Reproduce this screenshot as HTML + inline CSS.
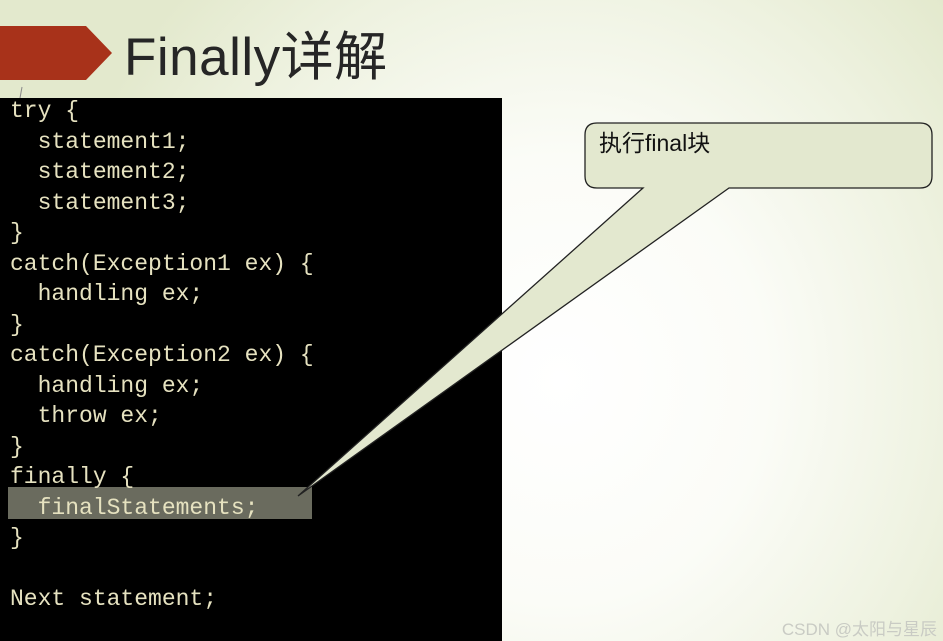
<!DOCTYPE html>
<html><head><meta charset="utf-8"><style>
html,body{margin:0;padding:0}
body{width:943px;height:641px;position:relative;overflow:hidden;
background:radial-gradient(ellipse 520px 560px at 560px 380px,#ffffff 0%,#fbfcf7 40%,#eef2e0 75%,#e3e9cd 100%);
font-family:"Liberation Sans","Noto Sans CJK SC",sans-serif}
.code{position:absolute;left:0;top:98px;width:502px;height:543px;background:#000}
.hl{position:absolute;left:8px;top:487px;width:304px;height:32px;background:#6a6b5e}
pre{position:absolute;left:10px;top:96px;margin:0;font-family:"Liberation Mono",monospace;font-size:23px;line-height:30.5px;color:#e6e2c0}
.title{position:absolute;left:124px;top:15px;font-size:53px;color:#262626;font-family:"Liberation Sans","Noto Sans CJK SC",sans-serif;letter-spacing:0.5px}
.wm{position:absolute;right:6px;top:615px;font-size:17px;color:#c9cbc4}
</style></head><body>
<svg style="position:absolute;left:0;top:0" width="943" height="641">
<polygon points="0,26 86,26 112,53 86,80 0,80" fill="#a8321a"/>
<line x1="22" y1="87" x2="20" y2="98" stroke="#888" stroke-width="1"/>
</svg>
<div class="title">Finally详解</div>
<div class="code"></div>
<div class="hl"></div>
<pre>try {
  statement1;
  statement2;
  statement3;
}
catch(Exception1 ex) {
  handling ex;
}
catch(Exception2 ex) {
  handling ex;
  throw ex;
}
finally {
  finalStatements;
}

Next statement;</pre>
<svg style="position:absolute;left:0;top:0" width="943" height="641">
<path d="M597,123 H920 Q932,123 932,135 V176 Q932,188 920,188 H729 L298,496 L643,188 H597 Q585,188 585,176 V135 Q585,123 597,123 Z" fill="#e3e8cf" stroke="#222" stroke-width="1.3"/>
<text x="599" y="151" font-size="23" fill="#111" font-family="Liberation Sans,Noto Sans CJK SC,sans-serif">执行final块</text>
</svg>
<div class="wm">CSDN @太阳与星辰</div>
</body></html>
